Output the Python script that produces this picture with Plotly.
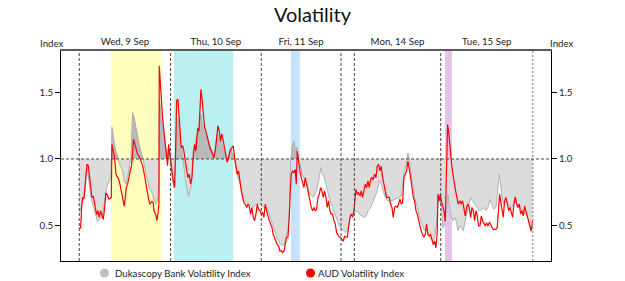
import plotly.graph_objects as go

# ---- data (x = sample index along the session timeline) ----
day_labels = ["Wed, 9 Sep", "Thu, 10 Sep", "Fri, 11 Sep", "Mon, 14 Sep", "Tue, 15 Sep"]
day_centers = [34.25, 102.5, 166.4, 238.7, 305.6]
day_separators = [0, 68.5, 136.5, 196.3, 206.3, 271.1]
series_end = 340.1
shade_x0 = [23.8, 71.0, 158.8, 274.3]
shade_x1 = [61.8, 115.5, 165.5, 279.5]
shade_colors = ["#ffffbe", "#baf0f0", "#c6e2fa", "#e4c2ea"]

gray_x = [0, 0.75, 2.5, 4.5, 5.75, 7.5, 8.75, 10, 11.25, 12.5, 13.75, 15, 17, 18.75, 20, 21.25, 22.5, 23.5, 24, 24.5,
          25.5, 26.5, 27.5, 28.5, 29.5, 30.5, 31.5, 32.5, 33.75, 35, 36.25, 37.5, 38.75, 40, 41.25, 42.5, 43.75, 45,
          46.25, 47.5, 48.75, 50, 51.25, 52.5, 53.75, 55, 56, 57.25, 58.5, 59.75, 60, 60.75, 61.5, 62.5, 63.5, 64.5,
          65.5, 66.25, 67, 68, 68.5, 69.75, 71, 72.25, 73, 74, 75, 76, 77, 78.5, 79.75, 81, 82, 83, 84, 85.5, 86.5,
          88, 89, 90, 91.25, 92.25, 93.5, 94.75, 96, 97.25, 98.5, 99.75, 101, 102.25, 103.5, 104.75, 106, 107.25,
          108.5, 109.75, 111, 112.25, 113.5, 114.5, 116, 118.25, 120.75, 123.25, 125.75, 128.25, 130.75, 133.25,
          135.75, 138.25, 140.75, 143.25, 145.75, 148.25, 150.75, 153.25, 155, 156.5, 157.5, 158.5, 159.5, 160.75,
          162, 163.25, 164.5, 165.75, 167, 168.25, 169.5, 170.75, 172, 173, 175.5, 178, 180, 181.25, 182.5, 183.75,
          185, 186.75, 188, 190, 191.75, 193.5, 195, 196.75, 198, 199.5, 201, 202.5, 204, 206, 208, 210, 211.75,
          213.5, 215, 216.75, 218.5, 220.5, 222, 223.5, 225, 226.5, 228, 229.5, 231, 234, 236.5, 239, 241.5, 243.5,
          245.25, 246.5, 247.75, 249, 250.25, 251.5, 253.5, 255.25, 257, 259, 261, 263, 265, 266.5, 268, 269, 270.25,
          271.5, 272.75, 274, 275.25, 276.5, 277.75, 279, 280.25, 281.5, 282.75, 284, 285.5, 287, 288, 290, 291.75,
          293.5, 295, 296.75, 298.5, 300, 301.75, 303.5, 305, 306.5, 308, 309.5, 311, 312.5, 314, 315, 316, 317,
          318.5, 320.5, 322.5, 324.5, 326.5, 328.5, 330.5, 332.5, 334.5, 336.5, 338, 339, 340]
gray_y = [0.60, 0.61, 0.67, 0.76, 0.95, 0.81, 0.71, 0.66, 0.61, 0.56, 0.53, 0.545, 0.56, 0.66, 0.76, 0.81, 0.83, 0.86,
          0.91, 1.24, 1.16, 1.11, 1.06, 1.035, 0.985, 0.96, 0.935, 0.91, 0.83, 0.81, 0.86, 0.935, 1.01, 1.35, 1.31,
          1.24, 1.16, 1.11, 1.06, 1.01, 0.96, 0.885, 0.835, 0.785, 0.76, 0.735, 0.70, 0.66, 0.68, 0.75, 1.45, 1.40,
          1.30, 1.22, 1.15, 1.10, 1.06, 1.02, 1.08, 1.05, 1.00, 0.86, 0.785, 1.00, 1.30, 1.30, 1.20, 1.10, 1.07,
          0.91, 0.835, 0.76, 0.72, 0.76, 0.80, 0.985, 1.06, 1.19, 1.19, 1.26, 1.335, 1.26, 1.21, 1.19, 1.15, 1.11,
          1.085, 1.06, 1.01, 1.11, 1.19, 1.17, 1.15, 1.10, 1.06, 1.035, 0.985, 1.035, 1.085, 1.05, 1.03, 0.885,
          0.81, 0.70, 0.67, 0.66, 0.635, 0.67, 0.66, 0.635, 0.635, 0.56, 0.48, 0.41, 0.36, 0.345, 0.41, 0.46, 0.61,
          0.985, 1.085, 1.135, 1.085, 1.085, 0.985, 0.96, 0.885, 0.86, 0.835, 0.81, 0.76, 0.735, 0.71, 0.76, 0.86,
          0.935, 0.885, 0.86, 0.81, 0.735, 0.685, 0.635, 0.585, 0.535, 0.495, 0.47, 0.46, 0.445, 0.46, 0.535, 0.585,
          0.595, 0.61, 0.585, 0.57, 0.56, 0.57, 0.61, 0.635, 0.685, 0.71, 0.76, 0.835, 0.81, 0.76, 0.71, 0.685,
          0.685, 0.695, 0.71, 0.72, 0.885, 0.96, 1.045, 0.985, 0.885, 0.785, 0.71, 0.635, 0.56, 0.51, 0.46, 0.46,
          0.41, 0.38, 0.41, 0.51, 0.66, 0.71, 0.635, 0.48, 0.51, 0.61, 0.735, 0.635, 0.56, 0.535, 0.56, 0.53, 0.46,
          0.50, 0.47, 0.46, 0.56, 0.635, 0.71, 0.685, 0.66, 0.635, 0.61, 0.62, 0.635, 0.61, 0.635, 0.695, 0.66,
          0.62, 0.635, 0.76, 0.885, 0.81, 0.71, 0.66, 0.685, 0.645, 0.635, 0.685, 0.66, 0.635, 0.595, 0.585, 0.56,
          0.51, 0.46, 0.48]

aud_x = [0, 1, 1.75, 2.5, 3.5, 4.5, 5.75, 6.75, 7.5, 8.5, 9.5, 10.5, 11.5, 13, 14, 15, 16, 17, 18, 19, 20, 21, 22,
         23, 24, 24.5, 25.5, 26.5, 27.5, 28.5, 29.5, 30.5, 31.5, 32.5, 33.75, 34.5, 35.25, 36.25, 37.5, 38.25, 39.25,
         40, 40.75, 41.75, 42.75, 43.75, 45, 46.25, 47.5, 48.75, 50, 51, 52, 53, 54.5, 55.5,
         56, 57.25, 58.25, 59, 59.75, 60, 60.75, 61.5, 62.5, 63.5, 64.5, 65.5, 66.25, 67, 67.75, 68.5, 69.5, 70.5,
         71.5, 72.25, 73, 74, 74.75, 75.75, 76.5, 77.5, 78.5, 79.5, 80.5, 81.5, 82.5, 83.5, 84.5, 85.5, 86.5, 87.5,
         88.25, 89, 89.75, 90.5, 91.25, 92.25, 93.25, 94, 95, 96, 97, 98, 99, 100, 101, 102, 103, 104, 105, 106,
         107, 108, 109, 110, 111, 112, 113,
         114.5, 115.5, 116.5, 117.5, 118.5, 119.5, 120.5, 121.5, 122.5, 123.5, 124.5, 125.5, 126.5, 127.5, 128.5,
         129.5, 130.5, 131.5, 132.5, 133.5, 134.5, 135.5, 136.5, 137.5, 138.5, 139.5, 140.5, 141.5, 142.5, 143.5,
         144.5, 145.5, 146.5, 147.5, 148.5, 149.5, 150.5, 151.5, 152.5, 153.5, 154.5, 155.5, 156.5, 157.5, 158.25,
         159, 160, 161, 162, 162.75, 163.5, 164.5, 165.5, 166.5, 167.5, 168.5, 169.5, 170.5, 171.5, 172.5,
         173, 174, 175, 176, 177, 178, 179, 180, 181, 182, 183, 184, 185, 186, 187, 188, 189, 190, 191, 192, 193,
         194, 195, 196, 197, 198, 199, 200, 201, 202, 203, 204, 205, 206, 206.75, 207.5, 208.5, 209.5, 210.5, 211.5,
         212.5, 213.5, 214.5, 215.5, 216.5, 217.5, 218.5, 219.5, 220.5, 221.5, 222.5, 223.5, 224.5, 225.5, 226.5,
         227.5, 228.5, 229.5, 230.5,
         231.5, 232.5, 233.5, 234.5, 235.5, 236.5, 237.5, 238.5, 239.5, 240.5, 241.5, 242.5, 243.5, 244.5, 245.5,
         246.5, 247.5, 248.5, 249.5, 250.5, 251.5, 252.5, 253.5, 254.5, 255.5, 256.5, 257.5, 258.5, 259.5, 260.5,
         261.5, 262.5, 263.5, 264.5, 265.5, 266.5, 267.5, 268.5, 269, 270, 270.75, 271.5, 272.5, 273.5, 274.5, 275.5,
         276.25, 277.25, 278.25, 279.25, 280.25, 281.25, 282.25, 283.25, 284.25,
         285.5, 286.5, 287.5, 288.5, 289.5, 290.5, 291.5, 292.5, 293.5, 294.5, 295.5, 296.5, 297.5, 298.5, 299.5,
         300.5, 301.5, 302.5, 303.5, 304.5, 305.5, 306.5, 307.5, 308.5, 309.5, 310.5, 311.5, 312.5, 313.5, 314.5,
         315.25, 316, 317, 318, 319, 320, 321, 322, 323, 324, 325, 326, 327, 328, 329, 330, 331, 332, 333, 334, 335,
         336, 337, 338, 339, 340]
aud_y = [0.48, 0.48, 0.63, 0.71, 0.70, 0.81, 0.96, 0.95, 0.885, 0.76, 0.71, 0.72, 0.66, 0.58, 0.61, 0.56, 0.61, 0.57,
         0.545, 0.63, 0.745, 0.73, 0.70, 0.70, 0.71, 1.11, 1.06, 1.01, 0.885, 0.86, 0.85, 0.81, 0.76, 0.71, 0.645,
         0.71, 0.785, 0.81, 0.885, 0.91, 0.95, 1.06, 1.15, 1.11, 1.07, 1.035, 1.02, 0.99, 0.95, 0.885, 0.80, 0.73,
         0.70, 0.66, 0.68, 0.67,
         0.61, 0.585, 0.535, 0.585, 0.66, 1.70, 1.56, 1.41, 1.31, 1.21, 1.11, 1.06, 0.95, 1.11, 1.06, 0.975, 0.91,
         0.835, 0.785, 1.06, 1.44, 1.45, 1.31, 1.19, 1.085, 1.10, 1.06, 0.985, 0.91, 0.86, 0.885, 0.81, 0.86, 1.035,
         1.11, 1.06, 1.16, 1.235, 1.21, 1.36, 1.525, 1.44, 1.31, 1.235, 1.21, 1.16, 1.11, 1.085, 1.06, 1.035, 1.01,
         1.06, 1.16, 1.25, 1.21, 1.135, 1.19, 1.135, 1.085, 1.035, 0.975, 1.01, 1.06,
         1.085, 1.10, 1.01, 0.96, 0.885, 0.91, 0.81, 0.76, 0.71, 0.67, 0.66, 0.635, 0.66, 0.645, 0.585, 0.635, 0.56,
         0.535, 0.585, 0.66, 0.62, 0.61, 0.585, 0.595, 0.56, 0.66, 0.61, 0.56, 0.535, 0.51, 0.485, 0.43, 0.41, 0.38,
         0.355, 0.345, 0.305, 0.31, 0.295, 0.305, 0.355, 0.41, 0.41, 0.56, 0.76, 0.885, 0.91, 0.895, 0.92, 0.81,
         1.06, 0.96, 0.91, 0.86, 0.81, 0.785, 0.86, 0.81, 0.76, 0.71,
         0.66, 0.635, 0.61, 0.635, 0.61, 0.62, 0.71, 0.735, 0.785, 0.76, 0.71, 0.76, 0.71, 0.635, 0.685, 0.61,
         0.585, 0.585, 0.535, 0.51, 0.445, 0.43, 0.41, 0.41, 0.395, 0.38, 0.42, 0.41, 0.41, 0.485, 0.56, 0.585,
         0.56, 0.61, 0.735, 0.77, 0.735, 0.745, 0.72, 0.76, 0.71, 0.76, 0.81, 0.785, 0.835, 0.785, 0.845, 0.86,
         0.845, 0.885, 0.86, 0.945, 0.96, 0.91, 0.945, 0.86, 0.81, 0.76, 0.71,
         0.71, 0.71, 0.66, 0.635, 0.56, 0.635, 0.645, 0.635, 0.66, 0.70, 0.66, 0.67, 0.86, 0.885, 0.91, 0.985,
         0.935, 0.86, 0.785, 0.71, 0.685, 0.61, 0.585, 0.535, 0.51, 0.455, 0.43, 0.41, 0.43, 0.51, 0.43, 0.42,
         0.43, 0.38, 0.355, 0.38, 0.33, 0.455, 0.735, 0.685, 0.735, 0.685, 0.635, 0.61, 0.53, 0.985, 1.26, 1.185,
         1.06, 0.96, 0.885, 0.81, 0.76, 0.71, 0.66,
         0.685, 0.66, 0.685, 0.62, 0.57, 0.635, 0.66, 0.635, 0.56, 0.635, 0.61, 0.535, 0.61, 0.57, 0.495, 0.495,
         0.57, 0.535, 0.51, 0.495, 0.52, 0.495, 0.52, 0.51, 0.485, 0.47, 0.47, 0.47, 0.485, 0.635, 0.735, 0.685,
         0.61, 0.56, 0.685, 0.71, 0.66, 0.61, 0.635, 0.585, 0.56, 0.66, 0.715, 0.66, 0.635, 0.66, 0.585, 0.61,
         0.57, 0.645, 0.61, 0.56, 0.535, 0.51, 0.455, 0.535]

BASE = 1.0
Y_RANGE = [0.231, 1.814]
X_RANGE = [-13.7, 353.8]
FS = 9.7


def above_part(xs, ys, base):
    ox, oy = [], []
    for i in range(len(xs)):
        if i > 0:
            y0, y1 = ys[i - 1], ys[i]
            if (y0 - base) * (y1 - base) < 0:
                t = (base - y0) / (y1 - y0)
                ox.append(xs[i - 1] + t * (xs[i] - xs[i - 1]))
                oy.append(base)
        ox.append(xs[i])
        oy.append(max(ys[i], base))
    return ox, oy


fig = go.Figure()
base_x = [gray_x[0], gray_x[-1]]
# light fill between grey index and the 1.0 base
fig.add_trace(go.Scatter(x=base_x, y=[BASE, BASE], mode="lines", line=dict(width=0),
                         showlegend=False, hoverinfo="skip"))
fig.add_trace(go.Scatter(x=gray_x, y=gray_y, mode="lines", line=dict(width=0),
                         fill="tonexty", fillcolor="#dcdcdc", showlegend=False, hoverinfo="skip"))
# darker fill for the part above 1.0
ax_, ay_ = above_part(gray_x, gray_y, BASE)
fig.add_trace(go.Scatter(x=base_x, y=[BASE, BASE], mode="lines", line=dict(width=0),
                         showlegend=False, hoverinfo="skip"))
fig.add_trace(go.Scatter(x=ax_, y=ay_, mode="lines", line=dict(width=0),
                         fill="tonexty", fillcolor="#b9b9b9", showlegend=False, hoverinfo="skip"))
# grey line
fig.add_trace(go.Scatter(x=gray_x, y=gray_y, mode="lines", line=dict(color="#b0b0b0", width=1),
                         name="Dukascopy Bank Volatility Index", showlegend=False))
# red line
fig.add_trace(go.Scatter(x=aud_x, y=aud_y, mode="lines", line=dict(color="#ff0000", width=1.2),
                         name="AUD Volatility Index", showlegend=False))
# register secondary axes (right labels, bottom line)
fig.add_trace(go.Scatter(x=[None], y=[None], xaxis="x2", yaxis="y2", showlegend=False, hoverinfo="skip"))

shapes = []
for x0, x1, c in zip(shade_x0, shade_x1, shade_colors):
    shapes.append(dict(type="rect", xref="x", yref="paper", x0=x0, x1=x1, y0=0, y1=1,
                       fillcolor=c, line=dict(width=0), layer="below"))
for xs in day_separators:
    shapes.append(dict(type="line", xref="x", yref="paper", x0=xs, x1=xs, y0=0, y1=1,
                       line=dict(color="#444444", width=1, dash="3px,2px")))
shapes.append(dict(type="line", xref="x", yref="paper", x0=series_end, x1=series_end, y0=0, y1=1,
                   line=dict(color="#a0a0a0", width=1.5, dash="2px,2px")))
shapes.append(dict(type="line", xref="paper", yref="y", x0=0, x1=1, y0=BASE, y1=BASE,
                   line=dict(color="#444444", width=1, dash="3px,2px")))

# legend drawn manually
PW, PH = 490.0, 210.0
leg_y = -12 / PH
legend_items = [("Dukascopy Bank Volatility Index", "#c0c0c0", 104.5 - 61, 113 - 61),
                ("AUD Volatility Index", "#ff0000", 310.5 - 61, 315.5 - 61)]
annotations = []
for text, col, cx, tx in legend_items:
    shapes.append(dict(type="circle", xref="paper", yref="paper", xsizemode="pixel", ysizemode="pixel",
                       xanchor=cx / PW, yanchor=leg_y, x0=-4.5, x1=4.5, y0=-4.5, y1=4.5,
                       fillcolor=col, line=dict(width=0)))
    annotations.append(dict(xref="paper", yref="paper", x=tx / PW, y=leg_y, xanchor="left", yanchor="middle",
                            text=text, showarrow=False, font=dict(size=FS, color="#222222")))

annotations.append(dict(xref="paper", yref="paper", x=-9.5 / PW, y=1 + 8 / PH, xanchor="center",
                        yanchor="middle", text="Index", showarrow=False, font=dict(size=FS, color="#222222")))
annotations.append(dict(xref="paper", yref="paper", x=1 + 10.5 / PW, y=1 + 8 / PH, xanchor="center",
                        yanchor="middle", text="Index", showarrow=False, font=dict(size=FS, color="#222222")))

fig.update_layout(
    width=625, height=281,
    margin=dict(l=61, r=74, t=51, b=20),
    paper_bgcolor="white", plot_bgcolor="white",
    font=dict(family="Lato, Roboto, sans-serif", size=FS, color="#222222"),
    title=dict(text="Volatility", x=0.5, xanchor="center", y=1 - 15 / 281, yanchor="middle",
               font=dict(size=20, color="#111111")),
    xaxis=dict(range=X_RANGE, side="top", tickmode="array", tickvals=day_centers, ticktext=day_labels,
               ticks="", showgrid=False, zeroline=False, showline=True, linecolor="#5a5a5a", linewidth=2,
               fixedrange=True),
    xaxis2=dict(range=X_RANGE, overlaying="x", side="bottom", showticklabels=False, ticks="",
                showgrid=False, zeroline=False, showline=True, linecolor="#000000", linewidth=1),
    yaxis=dict(range=Y_RANGE, tickmode="array", tickvals=[0.5, 1.0, 1.5], ticktext=["0.5", "1.0", "1.5"],
               ticks="outside", ticklen=5, tickcolor="#000000", showgrid=False, zeroline=False,
               showline=True, linecolor="#000000", linewidth=1),
    yaxis2=dict(range=Y_RANGE, overlaying="y", side="right", anchor="x", tickmode="array",
                tickvals=[0.5, 1.0, 1.5], ticktext=["0.5", "1.0", "1.5"], ticks="outside", ticklen=5,
                tickcolor="#000000", showgrid=False, zeroline=False, showline=True, linecolor="#000000",
                linewidth=1),
    shapes=shapes,
    annotations=annotations,
    showlegend=False,
)

fig.write_html("out.html")
